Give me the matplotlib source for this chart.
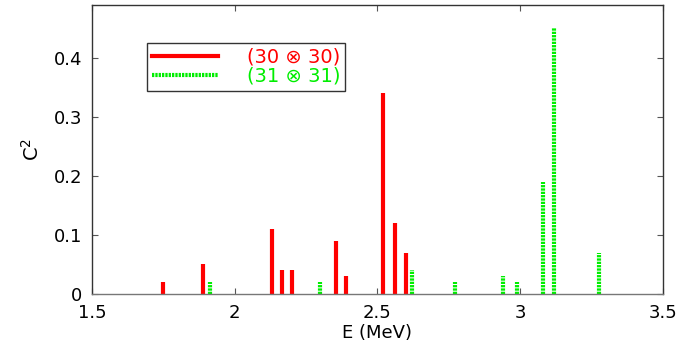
import matplotlib.pyplot as plt
from matplotlib.lines import Line2D

plt.rcParams['font.family'] = ['DejaVu Sans']

# (30 x 30) configuration
e_30 = [1.75, 1.89, 2.13, 2.165, 2.20, 2.355, 2.39, 2.52, 2.563, 2.60]
c2_30 = [0.02, 0.05, 0.11, 0.04, 0.04, 0.09, 0.03, 0.34, 0.12, 0.07]

# (31 x 31) configuration
e_31 = [1.913, 2.30, 2.62, 2.77, 2.94, 2.99, 3.08, 3.12, 3.276]
c2_31 = [0.02, 0.02, 0.04, 0.02, 0.03, 0.02, 0.19, 0.45, 0.07]

red = '#ff0000'
green = '#00ee00'
dots = (0, (0.55, 0.25))
fs = 13

fig = plt.figure(figsize=(6.79, 3.56), dpi=100)
ax = fig.add_axes([0.1355, 0.1742, 0.8409, 0.8118])

ax.vlines(e_30, 0, c2_30, colors=red, linewidth=3.0, capstyle='butt')
ax.vlines(e_31, 0, c2_31, colors=green, linewidth=3.0, linestyles=dots)

ax.set_xlim(1.5, 3.5)
ax.set_ylim(0, 0.489)
ax.set_xticks([1.5, 2, 2.5, 3, 3.5])
ax.set_xticklabels(['1.5', '2', '2.5', '3', '3.5'])
ax.set_yticks([0, 0.1, 0.2, 0.3, 0.4])
ax.set_yticklabels(['0', '0.1', '0.2', '0.3', '0.4'])
ax.tick_params(direction='in', length=4, labelsize=fs, top=True, right=True,
               color='#555555')
ax.tick_params(axis='x', pad=7)
ax.tick_params(axis='y', pad=7)
for s in ax.spines.values():
    s.set_color('#333333')
    s.set_linewidth(1.0)
ax.spines['bottom'].set_color('#777777')

ax.set_xlabel('E (MeV)', fontsize=fs, labelpad=2)
ax.set_ylabel('C$^2$', fontsize=fs + 1, labelpad=8)

handles = [Line2D([], [], color=red, linewidth=3.0),
           Line2D([], [], color=green, linewidth=3.0, linestyle=dots)]
leg = ax.legend(handles, ['(30 \u2297 30)', '(31 \u2297 31)'],
                loc='upper left', bbox_to_anchor=(0.0963, 0.8685),
                borderaxespad=0, fontsize=14, handlelength=3.4,
                handletextpad=1.5, labelspacing=0.0, borderpad=0.25,
                fancybox=False, framealpha=1, edgecolor='#333333')
leg.get_frame().set_linewidth(1.0)
for t, c in zip(leg.get_texts(), [red, green]):
    t.set_color(c)

fig.savefig('out.png', dpi=100)
